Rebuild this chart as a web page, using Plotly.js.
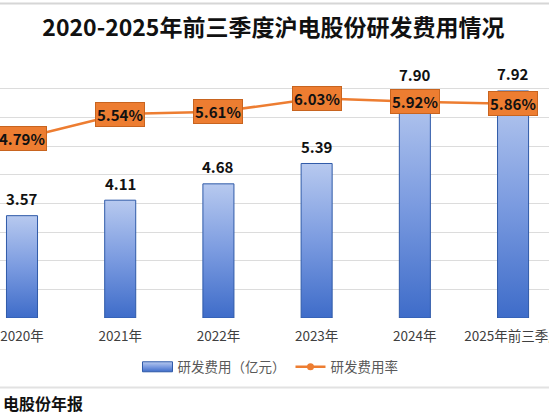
<!DOCTYPE html>
<html>
<head>
<meta charset="utf-8">
<script src="https://cdn.plot.ly/plotly-3.0.1.min.js"></script>
<style>
  html, body { margin: 0; padding: 0; background: #ffffff; overflow: hidden; }
  #chart { width: 549px; height: 412px; }
</style>
</head>
<body>
<div id="chart"></div>
<script>
// ---- data ----
var categories = ['2020年', '2021年', '2022年', '2023年', '2024年', '2025年前三季度'];
var rdCost = [3.57, 4.11, 4.68, 5.39, 7.90, 7.92];      // 研发费用（亿元）
var rdRate = [4.79, 5.54, 5.61, 6.03, 5.92, 5.86];      // 研发费用率 (%)
var costName = '研发费用（亿元）';
var rateName = '研发费用率';
var titleText = '2020-2025年前三季度沪电股份研发费用情况';
var sourceText = '电股份年报';

var FONT = '"Noto Sans CJK SC", "Noto Sans", sans-serif';
var ORANGE = '#ED7D31';

var barTrace = {
  type: 'bar',
  name: costName,
  x: categories,
  y: rdCost,
  yaxis: 'y',
  marker: { color: '#6a8fd6', line: { color: '#2f5aa8', width: 1 } },
  hoverinfo: 'skip'
};

var lineTrace = {
  type: 'scatter',
  mode: 'lines+markers',
  name: rateName,
  x: categories,
  y: rdRate,
  yaxis: 'y2',
  line: { color: ORANGE, width: 2.5 },
  marker: { color: ORANGE, size: 7, symbol: 'circle' },
  hoverinfo: 'skip'
};

var annotations = [];
categories.forEach(function (c, i) {
  annotations.push({
    x: c, y: rdCost[i], xref: 'x', yref: 'y',
    text: '<b>' + rdCost[i].toFixed(2) + '</b>',
    showarrow: false, yanchor: 'middle', yshift: 17,
    font: { family: FONT, size: 15, color: '#111111' }
  });
  annotations.push({
    x: c, y: rdRate[i], xref: 'x', yref: 'y2',
    text: '<b>' + rdRate[i].toFixed(2) + '%</b>',
    showarrow: false, yanchor: 'middle', xanchor: 'center',
    bgcolor: ORANGE, bordercolor: '#c8641f', borderwidth: 1, borderpad: 1,
    font: { family: FONT, size: 15, color: '#111111' }
  });
});
annotations.push({
  x: 0, y: -0.329, xref: 'paper', yref: 'paper', xshift: 1,
  text: '<b>' + sourceText + '</b>',
  showarrow: false, xanchor: 'left', yanchor: 'middle',
  font: { family: FONT, size: 16, color: '#111111' }
});

var layout = {
  width: 549,
  height: 412,
  margin: { l: 0, r: 0, t: 60, b: 94, pad: 0 },
  paper_bgcolor: '#ffffff',
  plot_bgcolor: '#ffffff',
  font: { family: FONT, color: '#404040' },
  showlegend: true,
  title: {
    text: '<b>' + titleText + '</b>',
    x: 0.498, xanchor: 'center',
    y: 0.933, yanchor: 'middle', yref: 'container',
    font: { family: FONT, size: 23, color: '#111111' }
  },
  bargap: 0.684,
  xaxis: {
    type: 'category',
    range: [-0.224, 5.366],
    showgrid: false,
    showline: false,
    zeroline: false,
    ticks: '',
    ticklabelstandoff: 8,
    automargin: false,
    tickangle: 0,
    tickfont: { family: FONT, size: 13.5, color: '#404040' },
    fixedrange: true
  },
  yaxis: {
    range: [0, 9],
    dtick: 1,
    showgrid: true,
    gridcolor: '#dcdcdc',
    gridwidth: 1,
    zeroline: false,
    showline: false,
    showticklabels: false,
    ticks: '',
    automargin: false,
    fixedrange: true
  },
  yaxis2: {
    overlaying: 'y',
    side: 'right',
    range: [-0.80, 7.22],
    showgrid: false,
    zeroline: false,
    showline: false,
    showticklabels: false,
    ticks: '',
    automargin: false,
    fixedrange: true
  },
  legend: {
    orientation: 'h',
    x: 0.4927, xanchor: 'center',
    y: -0.19, yanchor: 'middle',
    font: { family: FONT, size: 13.5, color: '#595959' },
    bgcolor: 'rgba(0,0,0,0)',
    traceorder: 'normal'
  },
  shapes: [
    { type: 'line', xref: 'paper', yref: 'paper', x0: 0, x1: 1, y0: 1.219, y1: 1.219,
      line: { color: '#d6d6d6', width: 2 } },
    { type: 'line', xref: 'paper', yref: 'paper', x0: 0, x1: 1, y0: -0.2694, y1: -0.2694,
      line: { color: '#e2e2e2', width: 2 } }
  ],
  annotations: annotations
};

Plotly.newPlot('chart', [barTrace, lineTrace], layout, { staticPlot: true, displayModeBar: false })
  .then(function (gd) {
    var ns = 'http://www.w3.org/2000/svg';
    var svg = gd.querySelector('svg.main-svg');
    var defs = svg.querySelector('defs');
    if (!defs) { defs = document.createElementNS(ns, 'defs'); svg.insertBefore(defs, svg.firstChild); }
    function makeGrad(id, x2, y2) {
      var g = document.createElementNS(ns, 'linearGradient');
      g.setAttribute('id', id);
      g.setAttribute('x1', '0'); g.setAttribute('y1', '0');
      g.setAttribute('x2', x2); g.setAttribute('y2', y2);
      [['0', '#b7c9ef'], ['0.5', '#7b9be0'], ['1', '#3e6cc9']].forEach(function (s) {
        var st = document.createElementNS(ns, 'stop');
        st.setAttribute('offset', s[0]);
        st.setAttribute('stop-color', s[1]);
        g.appendChild(st);
      });
      defs.appendChild(g);
    }
    makeGrad('barGrad', '0', '1');
    gd.querySelectorAll('.barlayer .point path').forEach(function (p) {
      p.style.fill = 'url(#barGrad)';
    });
    var legendTraces = gd.querySelectorAll('.legend .traces');
    if (legendTraces.length) {
      var sw = legendTraces[0].querySelector('.legendpoints path');
      if (sw) {
        sw.setAttribute('d', 'M15,5H-15V-5H15Z');
        sw.style.fill = 'url(#barGrad)';
        sw.style.stroke = '#2f5aa8';
        sw.style.strokeWidth = '1px';
      }
    }
  });
</script>
</body>
</html>
